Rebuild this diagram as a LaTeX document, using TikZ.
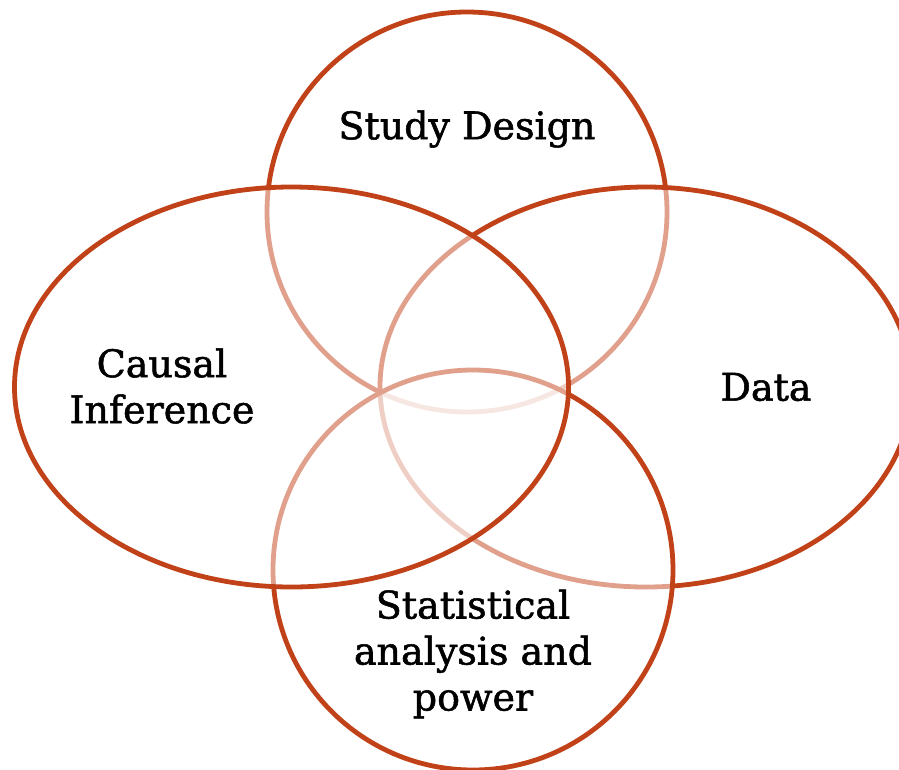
\documentclass[tikz,border=0pt]{standalone}
\usepackage{fontspec}
\setmainfont{DejaVu Serif}[FakeBold=1.4]
\definecolor{vennred}{RGB}{193,66,24}
\begin{document}
\begin{tikzpicture}[x=1pt,y=-1pt,
  venn/.style={draw=vennred,line width=4.8pt,fill=white,fill opacity=0.5,draw opacity=1},
  lbl/.style={font=\fontsize{38}{46}\selectfont,align=center,text=black,inner sep=0pt}]
\useasboundingbox (0,0) rectangle (899,769);
\clip (0,0) rectangle (899,769);
\fill[white] (0,0) rectangle (899,769);
\draw[venn] (467,212) circle[radius=200];
\draw[venn] (646,387) ellipse[x radius=266,y radius=200];
\draw[venn] (473,570) circle[radius=200];
\draw[venn] (291.5,387) ellipse[x radius=277,y radius=200];
\node[lbl] (sd) at (467,129) {Study Design};
\node[lbl] (ci) at (162,386) {Causal\\Inference};
\node[lbl] (da) at (766,387) {Data};
\node[lbl] (sa) at (473,654) {Statistical\\analysis and\\power};
\end{tikzpicture}
\end{document}
